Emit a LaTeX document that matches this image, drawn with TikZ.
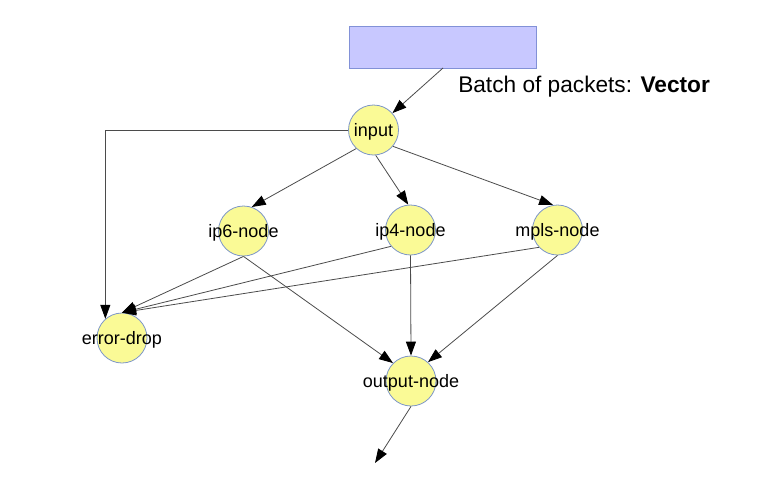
\documentclass[tikz,border=0pt]{standalone}
\usepackage{fontspec}
\setmainfont{Liberation Sans}
\usetikzlibrary{arrows.meta}

\definecolor{nodefill}{RGB}{250,250,150}
\definecolor{nodeline}{RGB}{125,150,200}
\definecolor{vecfill}{RGB}{200,200,255}
\definecolor{vecline}{RGB}{130,145,215}
\definecolor{edgeline}{RGB}{75,75,75}

\tikzset{
  gnode/.style={circle,draw=nodeline,fill=nodefill,line width=0.6pt,minimum size=37.5pt,inner sep=0pt},
  glabel/.style={font=\fontsize{13.5}{16}\selectfont,inner sep=0pt,yshift=-1.5pt},
  edge/.style={draw=edgeline,line width=0.6pt,-{Triangle[length=10.5pt,width=7.5pt,color=black]}}
}

\begin{document}
\begin{tikzpicture}[x=0.75pt,y=0.75pt,yscale=-1,xscale=1]
\useasboundingbox (0,0) rectangle (784,476);

%Shape: Rectangle [vector]
\draw [draw=vecline,fill=vecfill,line width=0.6pt] (349,26) rectangle (536,68) ;
\coordinate (vec) at (443,68);

% Text Node
\draw (458,87) node [anchor=west,inner sep=0pt,font=\fontsize{17}{20}\selectfont] {Batch of packets: \textbf{Vector}};

%Graph nodes
\node [gnode,label={[glabel]center:input}] (input) at (373.5,130) {};
\node [gnode,label={[glabel]center:ip6-node}] (ip6) at (243.5,231) {};
\node [gnode,label={[glabel]center:ip4-node}] (ip4) at (410.5,230) {};
\node [gnode,label={[glabel]center:mpls-node}] (mpls) at (557.5,230) {};
\node [gnode,label={[glabel]center:error-drop}] (err) at (122,338) {};
\node [gnode,label={[glabel]center:output-node}] (out) at (411,381) {};
\coordinate (tx) at (375,463);

%Edges from input
\draw [edge] (vec) -- (input) ;
\draw [edge] (input.west) -| (err.131) ;
\draw [edge] (input.227) -- (ip6.71) ;
\draw [edge] (input.-85) -- (ip4.95) ;
\draw [edge] (input.-40) -- (mpls.100) ;

%Edges to error-drop
\draw [edge] (ip6.south) -- (err.north) ;
\draw [edge] (ip4.220) -- (err.north) ;
\draw [edge] (mpls.223) -- (err.north) ;

%Edges to output-node
\draw [edge] (ip6.south) -- (out.135) ;
\draw [edge] (ip4.south) -- (out.north) ;
\draw [edge] (mpls.south) -- (out.48) ;
\draw [edge] (out.south) -- (tx) ;

\end{tikzpicture}
\end{document}
